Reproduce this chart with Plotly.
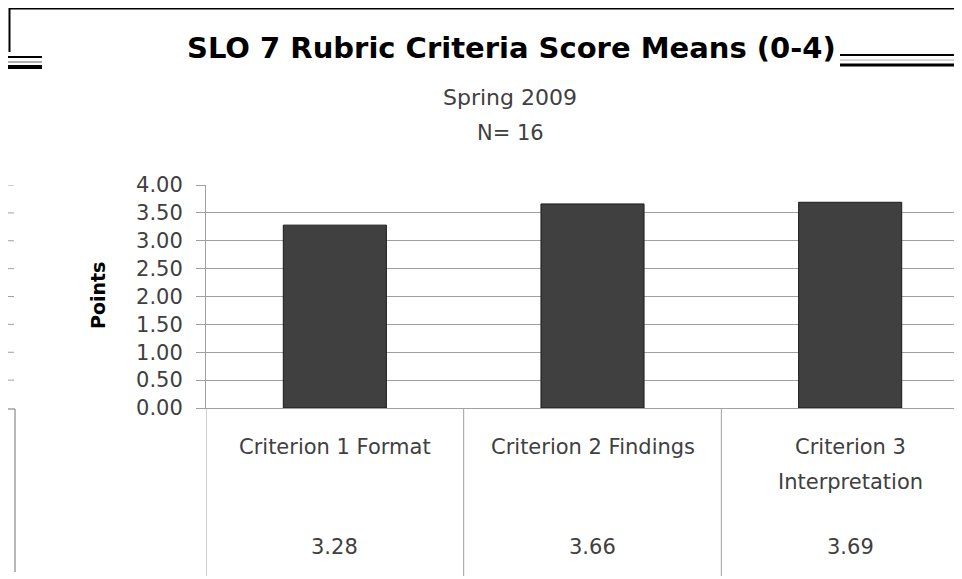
import plotly.graph_objects as go

# ---- data ----
categories = ["Criterion 1 Format", "Criterion 2 Findings", "Criterion 3<br>Interpretation"]
scores = [3.28, 3.66, 3.69]
value_labels = ["3.28", "3.66", "3.69"]
y_ticks = [0, 0.5, 1.0, 1.5, 2.0, 2.5, 3.0, 3.5, 4.0]
y_tick_text = ["0.00", "0.50", "1.00", "1.50", "2.00", "2.50", "3.00", "3.50", "4.00"]
title_text = "SLO 7 Rubric Criteria Score Means (0-4)"
subtitle_1 = "Spring 2009"
subtitle_2 = "N= 16"
y_title = "Points"

# ---- layout geometry (window pixels; the page body adds an 8px offset) ----
OFF = 8
WIN_W, WIN_H = 962, 579
W, H = WIN_W - OFF, WIN_H - OFF
L, R = 206, 962
T, B = 185, 408
def px(x):
    return (x - L) / (R - L)
def py(y):
    return (B - y) / (B - T)

FONT = "DejaVu Sans"
TXT = "#404040"
GRID = "#a0a0a0"

xs = list(range(len(categories)))

fig = go.Figure()
fig.add_trace(go.Bar(
    x=xs, y=scores, width=0.4,
    marker=dict(color="#404040", line=dict(color="#1a1a1a", width=1)),
    hoverinfo="skip",
))

shapes = []
annotations = []

# table below axis: vertical dividers
for xv in [-0.5, 0.5, 1.5]:
    shapes.append(dict(type="line", xref="x", yref="paper", x0=xv, x1=xv,
                       y0=0, y1=py(576), line=dict(color=GRID, width=1)))

# category labels (one annotation per line for Excel-like spacing) and values
for i, (c, v) in enumerate(zip(categories, value_labels)):
    for k, line in enumerate(c.split("<br>")):
        annotations.append(dict(xref="x", yref="paper", x=i, y=py(447 + 35 * k), text=line,
                                showarrow=False, yanchor="middle", align="center",
                                font=dict(family=FONT, size=21, color=TXT)))
    annotations.append(dict(xref="x", yref="paper", x=i, y=py(547), text=v,
                            showarrow=False, yanchor="middle",
                            font=dict(family=FONT, size=21, color=TXT)))

# titles
annotations.append(dict(xref="paper", yref="paper", x=px(511), y=py(48), text="<b>" + title_text + "</b>",
                        showarrow=False, yanchor="middle",
                        font=dict(family=FONT, size=29, color="#000000")))
annotations.append(dict(xref="paper", yref="paper", x=px(510), y=py(97), text=subtitle_1,
                        showarrow=False, yanchor="middle",
                        font=dict(family=FONT, size=22, color=TXT)))
annotations.append(dict(xref="paper", yref="paper", x=px(510), y=py(133), text=subtitle_2,
                        showarrow=False, yanchor="middle",
                        font=dict(family=FONT, size=21, color=TXT)))
# y axis title
annotations.append(dict(xref="paper", yref="paper", x=px(98), y=py(296), text="<b>" + y_title + "</b>",
                        showarrow=False, textangle=-90, xanchor="center", yanchor="middle",
                        font=dict(family=FONT, size=19, color="#000000")))

# decorative frame artifacts
shapes.append(dict(type="line", xref="paper", yref="paper", x0=px(9), x1=px(962), y0=py(8.5), y1=py(8.5),
                   line=dict(color="#000000", width=2)))
shapes.append(dict(type="line", xref="paper", yref="paper", x0=px(9.5), x1=px(9.5), y0=py(8), y1=py(52),
                   line=dict(color="#000000", width=2)))
for yy, col, wd in [(57, "#000000", 2), (62, "#b0b0b0", 2), (67, "#000000", 4)]:
    shapes.append(dict(type="line", xref="paper", yref="paper", x0=px(8), x1=px(42), y0=py(yy), y1=py(yy),
                       line=dict(color=col, width=wd)))
for yy, col, wd in [(55, "#000000", 2), (60, "#b0b0b0", 1), (65, "#000000", 3)]:
    shapes.append(dict(type="line", xref="paper", yref="paper", x0=px(840), x1=px(962), y0=py(yy), y1=py(yy),
                       line=dict(color=col, width=wd)))
# small left tick marks
for t in y_ticks[1:]:
    shapes.append(dict(type="line", xref="paper", yref="y", x0=px(8), x1=px(14), y0=t, y1=t,
                       line=dict(color=GRID, width=1)))
# bottom-left bracket
shapes.append(dict(type="line", xref="paper", yref="paper", x0=px(15), x1=px(15), y0=py(409), y1=py(572),
                   line=dict(color=GRID, width=1.5)))
shapes.append(dict(type="line", xref="paper", yref="paper", x0=px(8), x1=px(15), y0=py(409), y1=py(409),
                   line=dict(color=GRID, width=1.5)))

fig.update_layout(
    width=W, height=H,
    margin=dict(l=L - OFF, r=WIN_W - R, t=T - OFF, b=WIN_H - B, pad=0),
    paper_bgcolor="white", plot_bgcolor="white",
    showlegend=False,
    shapes=shapes,
    annotations=annotations,
    xaxis=dict(range=[-0.5, 2.434], showticklabels=False, ticks="",
               showgrid=False, zeroline=False, showline=True, linecolor=GRID, linewidth=1,
               fixedrange=True),
    yaxis=dict(range=[0, 4], tickvals=y_ticks, ticktext=y_tick_text,
               ticks="outside", ticklen=9, tickcolor=GRID, tickwidth=1,
               ticklabelstandoff=9,
               showgrid=True, gridcolor=GRID, gridwidth=1,
               zeroline=False, showline=True, linecolor=GRID, linewidth=1,
               tickfont=dict(family=FONT, size=21, color=TXT), fixedrange=True),
)

fig.write_html("out.html")
